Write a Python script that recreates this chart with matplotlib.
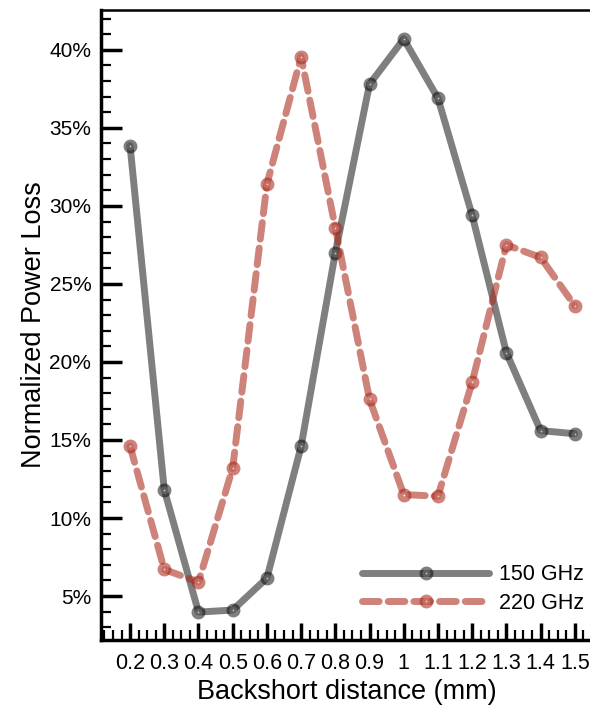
import numpy as np
import matplotlib
matplotlib.use('Agg')
import matplotlib.pyplot as plt
from matplotlib.ticker import MultipleLocator, FuncFormatter

params = {'font.family': ['Liberation Sans', 'DejaVu Sans'],
          'font.size': 15,
          'axes.labelsize': 19.5,
          'xtick.labelsize': 15.5,
          'ytick.labelsize': 15,
          'xtick.direction': 'in',
          'ytick.direction': 'in',
          'lines.scale_dashes': True}
plt.rcParams.update(params)

distance = [0.2, 0.3, 0.4, 0.5, 0.6, 0.7, 0.8, 0.9, 1.0, 1.1, 1.2, 1.3, 1.4, 1.5]
loss_150 = [33.85, 11.8, 3.97, 4.1, 6.15, 14.6, 27.0, 37.8, 40.7, 36.9, 29.4, 20.6, 15.6, 15.4]
loss_220 = [14.6, 6.7, 5.9, 13.2, 31.4, 39.55, 28.6, 17.6, 11.5, 11.4, 18.7, 27.5, 26.7, 23.6]

fig = plt.figure(figsize=(5.9, 7.08), dpi=100)
ax = fig.add_axes([0.1712, 0.096, 0.832, 0.89])

ax.plot(distance, loss_150, color='black', alpha=0.5, lw=5, solid_capstyle='round',
        marker='o', ms=5.75, mfc='white', mec='black', mew=4.25, label='150 GHz')
ax.plot(distance, loss_220, color='#aa281b', alpha=0.58, lw=5, dashes=(2.4, 1.3),
        dash_capstyle='round', marker='o', ms=5.75, mfc='white', mec='#aa281b', mew=4.25,
        label='220 GHz')

ax.set_xlim(0.115, 1.55)
ax.set_ylim(2.18, 42.56)

ax.xaxis.set_major_locator(MultipleLocator(0.1))
ax.xaxis.set_minor_locator(MultipleLocator(0.025))
ax.yaxis.set_major_locator(MultipleLocator(5))
ax.yaxis.set_minor_locator(MultipleLocator(1))
ax.xaxis.set_major_formatter(FuncFormatter(lambda v, p: '%g' % round(v, 2) if v > 0.15 else ''))
ax.yaxis.set_major_formatter(FuncFormatter(lambda v, p: '%d%%' % round(v)))

ax.tick_params(which='major', length=12, width=2.5, pad=9)
ax.tick_params(axis='y', which='major', length=15, pad=7)
ax.tick_params(which='minor', length=7, width=1.6)
ax.tick_params(top=False, right=False, which='both')

for side in ['left', 'bottom']:
    ax.spines[side].set_linewidth(2.5)
ax.spines['top'].set_linewidth(1.8)
ax.spines['right'].set_linewidth(1.8)

ax.set_xlabel('Backshort distance (mm)', labelpad=4)
ax.set_ylabel('Normalized Power Loss', labelpad=2)

ax.legend(loc='lower right', bbox_to_anchor=(1.024, 0.011), frameon=False, numpoints=1,
          handlelength=5.9, handletextpad=0.45, labelspacing=0.35, fontsize=15.5)

plt.savefig('out.png', dpi=100)
